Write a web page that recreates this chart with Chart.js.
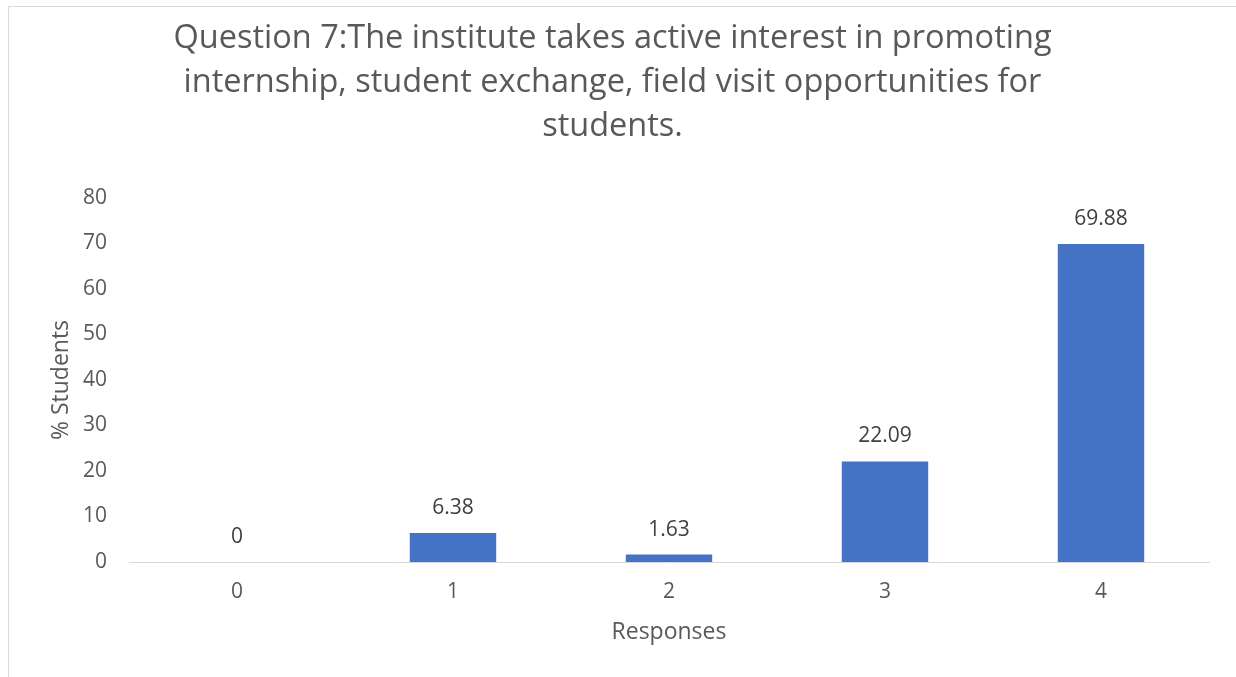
<!DOCTYPE html>
<html>
<head>
<meta charset="utf-8">
<script src="https://cdn.jsdelivr.net/npm/chart.js@4.4.0/dist/chart.umd.min.js"></script>
<style>
    html, body { margin: 0; padding: 0; background: #ffffff; overflow: hidden; }
    #moldura {
        position: absolute; left: 8px; top: 6px; width: 1240px; height: 690px;
        border: 1px solid #d9d9d9; box-sizing: border-box;
    }
    #caixa { position: absolute; left: 0; top: 0; width: 1236px; height: 677px; }
</style>
</head>
<body>
<div id="moldura"></div>
<div id="caixa"><canvas id="grafico"></canvas></div>
<script>
// Dados do gráfico
const respostas = ['0', '1', '2', '3', '4'];
const percentuais = [0, 6.38, 1.63, 22.09, 69.88];
const rotulosY = [0, 10, 20, 30, 40, 50, 60, 70, 80];
const tituloLinhas = [
    'Question 7:The institute takes active interest in promoting',
    'internship, student exchange, field visit opportunities for',
    'students.'
];

const fonte = '"Open Sans", "DejaVu Sans", sans-serif';

// Escreve o valor acima de cada barra
const rotulosBarras = {
    id: 'rotulosBarras',
    afterDatasetsDraw(chart) {
        const ctx = chart.ctx;
        const meta = chart.getDatasetMeta(0);
        ctx.save();
        ctx.font = '21px ' + fonte;
        ctx.fillStyle = '#404040';
        ctx.textAlign = 'center';
        ctx.textBaseline = 'middle';
        meta.data.forEach((barra, i) => {
            ctx.fillText(String(percentuais[i]), barra.x, barra.y - 25);
        });
        ctx.restore();
    }
};

new Chart(document.getElementById('grafico').getContext('2d'), {
    type: 'bar',
    data: {
        labels: respostas,
        datasets: [{
            data: percentuais,
            backgroundColor: '#4472C4',
            categoryPercentage: 1,
            barPercentage: 0.4
        }]
    },
    options: {
        responsive: true,
        maintainAspectRatio: false,
        animation: false,
        layout: { padding: { left: 16, right: 27, top: 0, bottom: 18 } },
        plugins: {
            legend: { display: false },
            tooltip: { enabled: false },
            title: {
                display: true,
                text: tituloLinhas,
                color: '#595959',
                font: { family: fonte, size: 32.5, weight: 'normal', lineHeight: 44 / 32.5 },
                padding: { top: 17, bottom: 49 }
            }
        },
        scales: {
            x: {
                afterFit(scale) { scale.height = 97; },
                grid: { display: false, drawTicks: false },
                border: { display: true, color: '#d9d9d9', width: 1 },
                ticks: { color: '#595959', font: { family: fonte, size: 21 }, padding: 17 },
                title: {
                    display: true, text: 'Responses', color: '#595959',
                    font: { family: fonte, size: 23 }, padding: { top: 0, bottom: 13 }
                }
            },
            y: {
                min: 0, max: 80,
                afterBuildTicks(scale) { scale.ticks = rotulosY.map(v => ({ value: v })); },
                afterFit(scale) { scale.width = 113; },
                grid: { display: false, drawTicks: false },
                border: { display: false },
                ticks: { color: '#595959', font: { family: fonte, size: 21 }, padding: 22 },
                title: {
                    display: true, text: '% Students', color: '#595959',
                    font: { family: fonte, size: 23 }, padding: { top: 32, bottom: 7 }
                }
            }
        }
    },
    plugins: [rotulosBarras]
});
</script>
</body>
</html>
